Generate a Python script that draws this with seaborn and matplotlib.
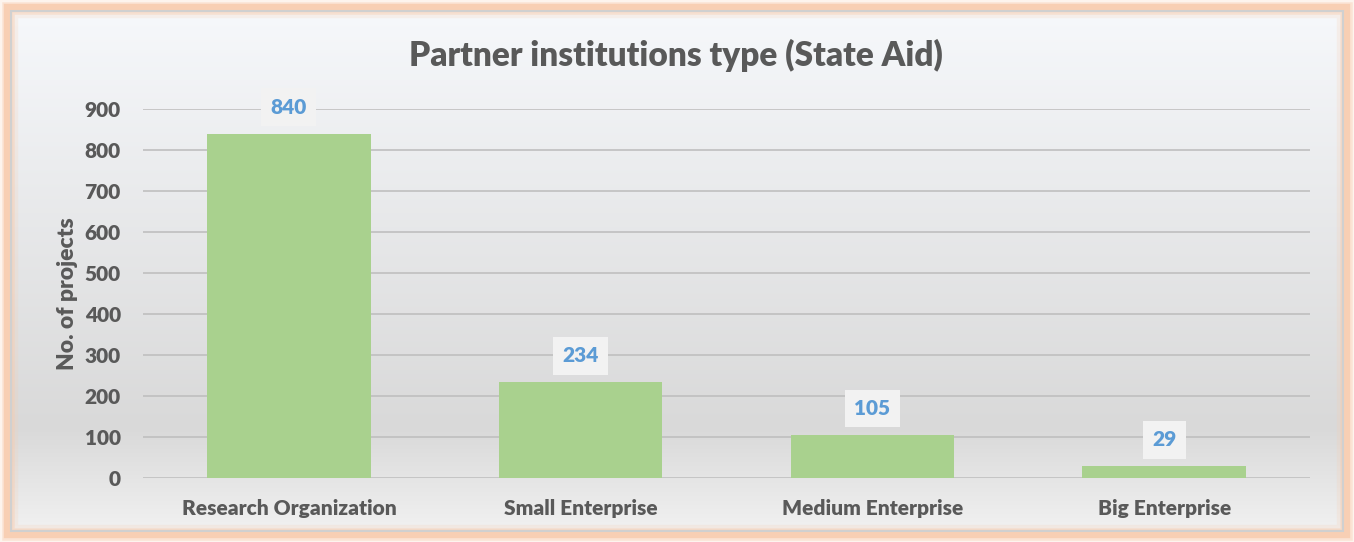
import numpy as np
import pandas as pd
import matplotlib
matplotlib.use('Agg')
import matplotlib.pyplot as plt
import seaborn as sns
from matplotlib.patches import Rectangle

categories = ['Research Organization', 'Small Enterprise', 'Medium Enterprise', 'Big Enterprise']
projects = [840, 234, 105, 29]
y_ticks = [0, 100, 200, 300, 400, 500, 600, 700, 800, 900]

sns.set_style('white')
plt.rcParams['font.family'] = ['Lato', 'DejaVu Sans']
plt.rcParams['font.weight'] = 'heavy'

text_col = '#595959'
bar_col = '#A9D18E'
label_col = '#5B9BD5'

df = pd.DataFrame({'type': categories, 'n': projects})

fig = plt.figure(figsize=(13.54, 5.42), dpi=100)

# background with gradient and orange glow frame
bg = fig.add_axes([0, 0, 1, 1], zorder=-5)
bg.set_xlim(0, 1354)
bg.set_ylim(542, 0)
bg.axis('off')
stops = np.array([0.0, 0.8, 1.0])
cols = np.array([[246, 248, 251], [217, 217, 217], [241, 241, 241]]) / 255
t = np.linspace(0, 1, 256)
grad = np.stack([np.interp(t, stops, cols[:, i]) for i in range(3)], axis=1)
bg.imshow(grad[:, None, :], extent=(12, 1342, 532, 12), aspect='auto', zorder=0)
for w, a in [(14, 0.2), (9, 0.4), (6, 0.8)]:
    bg.add_patch(Rectangle((8, 8), 1338, 526, fill=False, ec='#F8CBAD', lw=w, alpha=a, zorder=1))
bg.add_patch(Rectangle((11, 11), 1332, 520, fill=False, ec='#D0D0D0', lw=1.5, zorder=2))

ax = fig.add_axes([143 / 1354, 64 / 542, 1167 / 1354, 369 / 542])
ax.set_facecolor('none')
sns.barplot(data=df, x='type', y='n', color=bar_col, saturation=1, width=0.56,
            linewidth=0, ax=ax, zorder=3)

ax.set_xlim(-0.5, 3.5)
ax.set_ylim(0, 900)
ax.set_yticks(y_ticks)
ax.yaxis.grid(True, color='#BFBFBF', lw=1.2, zorder=0)
ax.set_axisbelow(True)
for s in ax.spines.values():
    s.set_visible(False)
ax.tick_params(axis='both', length=0, colors=text_col, labelsize=15)
ax.tick_params(axis='y', pad=16)
ax.tick_params(axis='x', pad=15)
ax.set_xlabel('')
ax.set_ylabel('No. of projects', fontsize=16.5, color=text_col, fontweight='heavy', labelpad=5)

for i, v in enumerate(projects):
    ax.annotate(str(v), (i, v), xytext=(0, 19), textcoords='offset points', ha='center', va='center',
                fontsize=15, fontweight='heavy', color=label_col, zorder=5,
                bbox=dict(boxstyle='square,pad=0.45', fc='#F2F2F2', ec='none'))

fig.text(676 / 1354, 1 - 55 / 542, 'Partner institutions type (State Aid)', ha='center', va='center',
         fontsize=24, fontweight='heavy', color=text_col)

fig.savefig('out.png', dpi=100)
